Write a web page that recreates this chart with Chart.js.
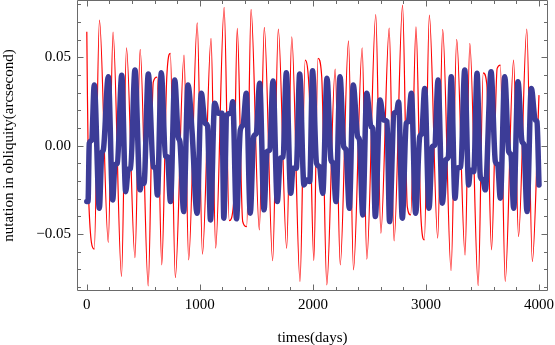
<!DOCTYPE html>
<html><head><meta charset="utf-8">
<script src="https://cdn.jsdelivr.net/npm/chart.js@4.4.1/dist/chart.umd.min.js"></script>
<style>html,body{margin:0;padding:0;background:#fff;}canvas{display:block;}</style>
</head><body>
<canvas id="c" width="555" height="345"></canvas>
<script>
// ---- data ----
const redDays = [0,17,66,112,190,232,307,351,426,472,543,588,621,663,707,739,783,860,901,977,1023,1099,1140,1215,1260,1298,1331,1379,1414,1453,1526,1570,1644,1694,1768,1813,1886,1932,1970,2008,2045,2078,2123,2197,2242,2315,2359,2436,2477,2556,2601,2675,2718,2793,2835,2865,2912,2954,2986,3030,3104,3148,3222,3272,3346,3388,3462,3507,3538,3580,3630,3658,3701,3775,3819,3892,3941,4000];
const redValues = [0.0644,-0.0307,-0.0585,0.0710,-0.0547,0.0642,-0.0739,0.0554,-0.0633,0.0545,-0.0793,0.0360,0.0388,-0.0674,0.0381,0.0522,-0.0746,0.0512,-0.0646,0.0695,-0.0614,0.0607,-0.0580,0.0782,-0.0424,-0.0329,0.0663,-0.0429,-0.0458,0.0771,-0.0476,0.0669,-0.0651,0.0659,-0.0580,0.0616,-0.0768,0.0484,0.0270,-0.0649,0.0494,0.0390,-0.0787,0.0433,-0.0674,0.0593,-0.0702,0.0554,-0.0642,0.0742,-0.0495,0.0665,-0.0538,0.0795,-0.0345,-0.0392,0.0672,-0.0382,-0.0533,0.0738,-0.0523,0.0658,-0.0706,0.0601,-0.0618,0.0579,-0.0791,0.0412,0.0349,-0.0589,0.0437,0.0456,-0.0768,0.0484,-0.0514,0.0660,-0.0655,0.0286];

const blueDays = [0,11,22,43,66,111,132,146,190,229,249,270,309,344,367,388,426,471,486,506,544,588,608,624,659,696,714,740,778,809,824,857,895,932,975,1013,1046,1068,1094,1131,1163,1196,1212,1238,1276,1291,1324,1358,1382,1411,1446,1476,1499,1529,1568,1594,1618,1647,1685,1712,1736,1765,1804,1824,1853,1883,1921,1942,1972,1997,2032,2058,2087,2125,2160,2178,2204,2240,2273,2293,2322,2357,2396,2412,2441,2476,2514,2529,2552,2594,2626,2656,2678,2718,2740,2758,2791,2826,2844,2871,2909,2945,2963,2989,3027,3056,3078,3107,3145,3175,3198,3224,3257,3277,3308,3343,3378,3392,3423,3452,3481,3505,3525,3576,3614,3635,3658,3697,3732,3752,3776,3814,3850,3867,3894,3932,3967,3982,4000];
const blueValues = [-0.0316,-0.0316,0.0014,0.0032,0.0343,-0.0354,-0.0043,-0.0024,0.0390,-0.0307,-0.0109,-0.0099,0.0399,-0.0260,-0.0133,-0.0128,0.0428,-0.0250,-0.0194,-0.0212,0.0405,-0.0119,-0.0126,-0.0279,0.0412,-0.0058,-0.0064,-0.0316,0.0371,0.0049,0.0021,-0.0373,0.0343,0.0070,-0.0382,0.0296,0.0127,0.0111,-0.0420,0.0240,0.0183,0.0183,-0.0410,0.0173,0.0185,0.0249,-0.0414,0.0089,0.0117,0.0296,-0.0382,0.0051,0.0070,0.0353,-0.0363,-0.0034,-0.0024,0.0366,-0.0316,-0.0071,-0.0062,0.0412,-0.0269,-0.0128,-0.0128,0.0405,-0.0222,-0.0194,-0.0203,0.0424,-0.0099,-0.0119,-0.0269,0.0381,-0.0081,-0.0099,-0.0316,0.0390,-0.0006,-0.0024,-0.0354,0.0343,0.0051,0.0032,-0.0392,0.0296,0.0107,0.0098,-0.0401,0.0258,0.0145,0.0136,-0.0429,0.0184,0.0190,0.0247,-0.0410,0.0127,0.0136,0.0296,-0.0382,0.0051,0.0070,0.0324,-0.0354,-0.0006,0.0004,0.0371,-0.0325,-0.0081,-0.0062,0.0390,-0.0297,-0.0128,-0.0119,0.0428,-0.0222,-0.0137,-0.0147,0.0409,-0.0175,-0.0194,-0.0250,0.0418,-0.0090,-0.0109,-0.0297,0.0390,-0.0034,-0.0053,-0.0354,0.0362,0.0023,0.0004,-0.0373,0.0324,0.0145,0.0136,-0.0222];

const xMajorTicks = [0,1000,2000,3000,4000];
const xMinorTicks = [0,200,400,600,800,1000,1200,1400,1600,1800,2000,2200,2400,2600,2800,3000,3200,3400,3600,3800,4000];
const yMajorTicks = [-0.05,0,0.05];
const yMinorTicks = [-0.08,-0.07,-0.06,-0.05,-0.04,-0.03,-0.02,-0.01,0,0.01,0.02,0.03,0.04,0.05,0.06,0.07,0.08];
const xTitle = 'times(days)';
const yTitle = 'nutation in obliquity(arcsecond)';

const redPts = redDays.map((d,i)=>({x:d,y:redValues[i]}));
const bluePts = blueDays.map((d,i)=>({x:d,y:blueValues[i]}));

const FONT = {family:"'Liberation Serif','Times New Roman',serif", size:15};
const FRAME = '#6a6a6a';

const framePlugin = {
  id:'frame',
  afterDatasetsDraw(chart){
    const ctx = chart.ctx, a = chart.chartArea;
    const xs = chart.scales.x, ys = chart.scales.y;
    ctx.save();
    ctx.strokeStyle = FRAME;
    ctx.lineWidth = 1;
    const L = Math.round(a.left)+0.5, R = Math.round(a.right)-0.5, T = Math.round(a.top)+0.5, B = Math.round(a.bottom)-0.5;
    ctx.beginPath();
    ctx.rect(L, T, R-L, B-T);
    ctx.stroke();
    ctx.beginPath();
    xMinorTicks.forEach(v=>{
      const len = xMajorTicks.includes(v) ? 6 : 3.5;
      const px = Math.round(xs.getPixelForValue(v))+0.5;
      ctx.moveTo(px,B); ctx.lineTo(px,B-len);
      ctx.moveTo(px,T); ctx.lineTo(px,T+len);
    });
    yMinorTicks.forEach(v=>{
      const len = yMajorTicks.some(m=>Math.abs(m-v)<1e-9) ? 6 : 3.5;
      const py = Math.round(ys.getPixelForValue(v))+0.5;
      ctx.moveTo(L,py); ctx.lineTo(L+len,py);
      ctx.moveTo(R,py); ctx.lineTo(R-len,py);
    });
    ctx.stroke();
    ctx.restore();
  }
};

new Chart(document.getElementById('c'), {
  type:'line',
  data:{datasets:[
    {label:'blue', data:bluePts, borderColor:'#3c3c97', borderWidth:5.5, pointRadius:0, cubicInterpolationMode:'monotone', fill:false, order:0, borderJoinStyle:'round', borderCapStyle:'round'},
    {label:'red', data:redPts, borderColor:'#ff0000', borderWidth:1.2, pointRadius:0, cubicInterpolationMode:'monotone', fill:false, order:1}
  ]},
  options:{
    responsive:false, animation:false, devicePixelRatio:1,
    layout:{padding:{top:0,right:7,left:0,bottom:0}},
    plugins:{legend:{display:false}, tooltip:{enabled:false}},
    scales:{
      x:{type:'linear', min:-86.7, max:4079.6,
        grid:{display:false, drawTicks:false}, border:{display:false},
        afterBuildTicks:s=>{ s.ticks = xMajorTicks.map(v=>({value:v})); },
        ticks:{font:FONT, color:'#000', padding:5, maxRotation:0, autoSkip:false, callback:v=>String(v)},
        title:{display:true, text:xTitle, font:FONT, color:'#000', padding:{top:0,bottom:-2}},
        afterFit:s=>{ s.height = 54; s.paddingLeft = 0; s.paddingRight = 0; }
      },
      y:{type:'linear', min:-0.0822, max:0.0824,
        grid:{display:false, drawTicks:false}, border:{display:false},
        afterBuildTicks:s=>{ s.ticks = yMajorTicks.map(v=>({value:v})); },
        ticks:{font:FONT, color:'#000', padding:6, autoSkip:false,
          callback:v=> (v<-1e-9?'\u2212':'') + Math.abs(v).toFixed(2)},
        title:{display:true, text:yTitle, font:FONT, color:'#000', padding:{top:0,bottom:0}},
        afterFit:s=>{ s.width = 77; s.paddingTop = 0; s.paddingBottom = 0; }
      }
    }
  },
  plugins:[framePlugin]
});
</script>
</body></html>
